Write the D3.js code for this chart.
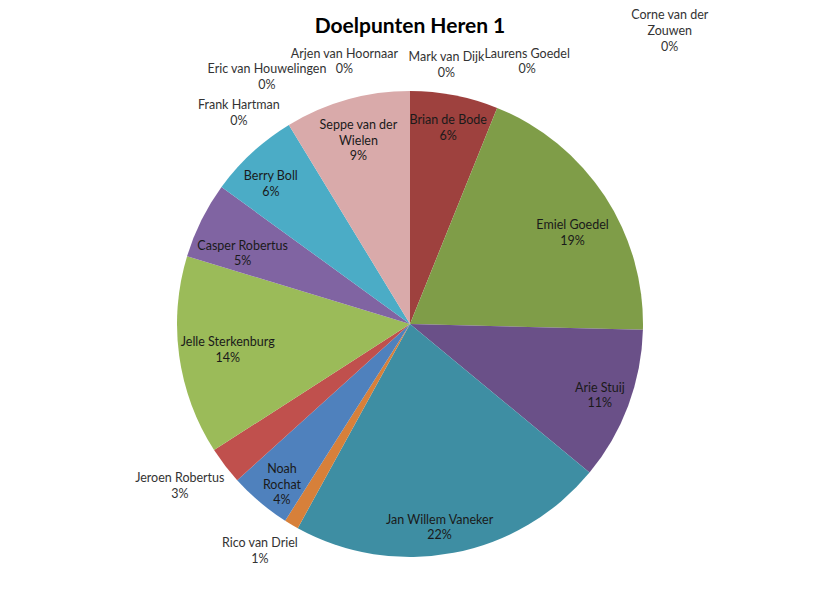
<!DOCTYPE html>
<html>
<head>
<meta charset="utf-8">
<script src="https://cdn.jsdelivr.net/npm/d3@7"></script>
<style>
  body { margin: 0; background: #fff; }
  text { font-family: Lato, "Noto Sans", sans-serif; }
</style>
</head>
<body>
<svg width="819" height="607"></svg>
<script>
// players in pie order (clockwise from 12 o'clock)
var players = [
  "Mark van Dijk", "Laurens Goedel", "Corne van der Zouwen",
  "Brian de Bode", "Emiel Goedel", "Arie Stuij", "Jan Willem Vaneker",
  "Rico van Driel", "Noah Rochat", "Jeroen Robertus", "Jelle Sterkenburg",
  "Casper Robertus", "Berry Boll", "Seppe van der Wielen",
  "Frank Hartman", "Eric van Houwelingen", "Arjen van Hoornaar"
];
// share of goals
var goals = [0, 0, 0, 6.1, 19.3, 10.6, 22.0, 1.0, 4.3, 2.6, 13.8, 5.3, 6.3, 8.7, 0, 0, 0];
var colors = [
  "#4F81BD", "#C0504D", "#9BBB59",
  "#9E413E", "#7F9D48", "#6A5088", "#3E8EA3",
  "#D7803A", "#4F81BD", "#C0504D", "#9BBB59",
  "#8064A2", "#4BACC6", "#D9AAAA",
  "#F79646", "#2C4D75", "#772C2A"
];
// how the names wrap in the labels
var nameBreaks = {
  "Corne van der Zouwen": ["Corne van der", "Zouwen"],
  "Seppe van der Wielen": ["Seppe van der", "Wielen"],
  "Noah Rochat": ["Noah", "Rochat"]
};
var title = "Doelpunten Heren 1";

// best-fit tweaks for labels inside slices: [radius factor, angle nudge deg]
var insideFit = {
  "Brian de Bode": [0.86, 0],
  "Emiel Goedel": [0.80, 4],
  "Arie Stuij": [0.87, 0],
  "Jan Willem Vaneker": [0.88, 2.5],
  "Noah Rochat": [0.88, -1.5],
  "Jelle Sterkenburg": [0.79, 0],
  "Casper Robertus": [0.78, -3.5],
  "Berry Boll": [0.85, -2],
  "Seppe van der Wielen": [0.82, 0]
};
// labels for slices too thin to hold one: [angle deg, distance]
var outsideLabels = {
  "Mark van Dijk": [8, 262],
  "Laurens Goedel": [24, 288],
  "Corne van der Zouwen": [41.5, 392],
  "Rico van Driel": [213.5, 272],
  "Jeroen Robertus": [235, 281],
  "Frank Hartman": [-39, 272],
  "Eric van Houwelingen": [-30, 286],
  "Arjen van Hoornaar": [-14, 271]
};

var svg = d3.select("svg");
var cx = 410, cy = 324, radius = 233;

var data = players.map(function(p, i) {
  return { name: p, value: goals[i], color: colors[i] };
});
var total = d3.sum(goals);

var pie = d3.pie().sort(null).value(function(d) { return d.value; });
var arc = d3.arc().innerRadius(0).outerRadius(radius);

var g = svg.append("g").attr("transform", "translate(" + cx + "," + cy + ")");

var arcs = pie(data);

g.selectAll("path")
  .data(arcs.filter(function(d) { return d.data.value > 0; }))
  .enter().append("path")
  .attr("d", arc)
  .attr("fill", function(d) { return d.data.color; });

function polar(deg, dist) {
  var a = deg * Math.PI / 180;
  return [Math.sin(a) * dist, -Math.cos(a) * dist];
}

function labelPos(d) {
  var o = outsideLabels[d.data.name];
  if (o) return polar(o[0], o[1]);
  var f = insideFit[d.data.name] || [0.84, 0];
  var mid = (d.startAngle + d.endAngle) / 2 * 180 / Math.PI;
  return polar(mid + f[1], radius * f[0]);
}

var labels = g.selectAll("g.label")
  .data(arcs)
  .enter().append("g")
  .attr("class", "label")
  .attr("transform", function(d) {
    var p = labelPos(d);
    return "translate(" + p[0] + "," + p[1] + ")";
  });

labels.each(function(d) {
  var lines = (nameBreaks[d.data.name] || [d.data.name]).slice();
  lines.push(Math.round(d.data.value / total * 100) + "%");
  var lh = 15.8;
  var t = d3.select(this).append("text")
    .attr("text-anchor", "middle")
    .attr("font-size", "12.5px")
    .attr("fill", outsideLabels[d.data.name] ? "#333" : "#1a1a1a");
  lines.forEach(function(l, i) {
    t.append("tspan")
      .attr("x", 0)
      .attr("y", (i - (lines.length - 1) / 2) * lh + 4.5)
      .text(l);
  });
});

svg.append("text")
  .attr("x", cx)
  .attr("y", 33)
  .attr("text-anchor", "middle")
  .attr("font-size", "21px")
  .attr("font-weight", "bold")
  .attr("fill", "#000")
  .text(title);
</script>
</body>
</html>
